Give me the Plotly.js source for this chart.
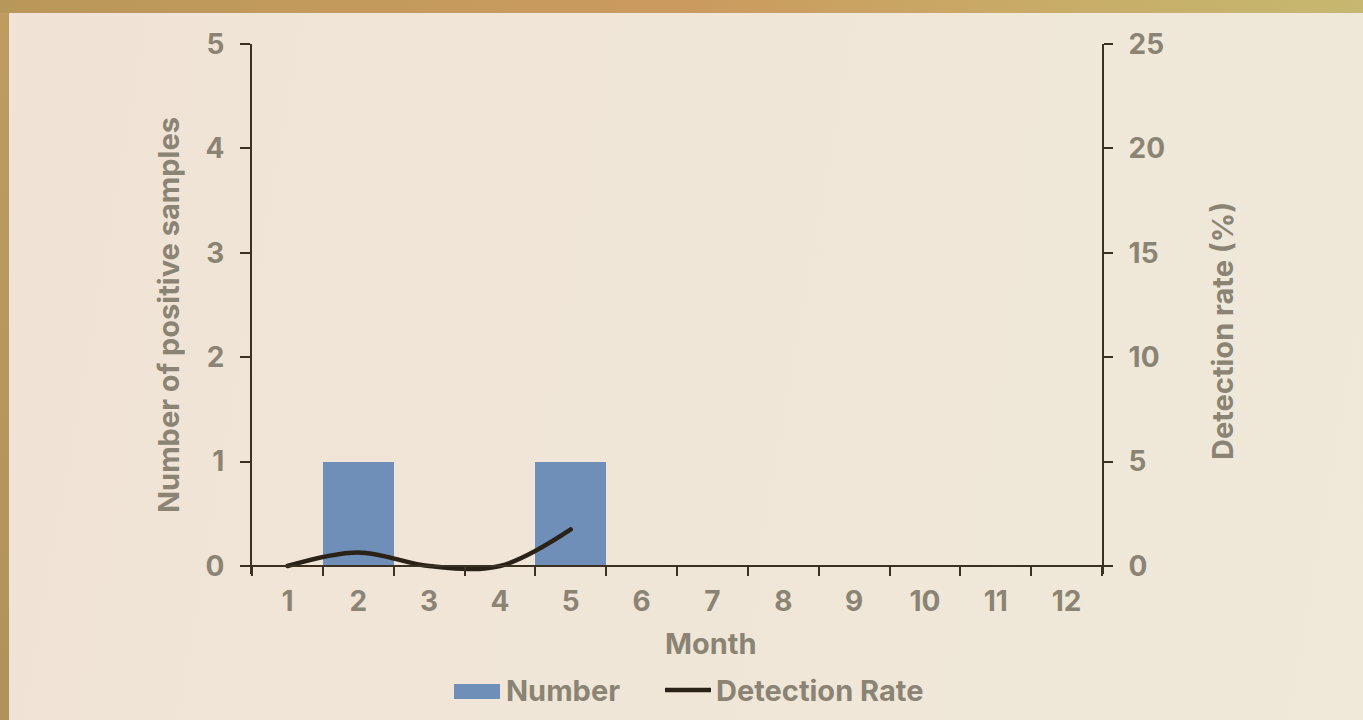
<!DOCTYPE html>
<html>
<head>
<meta charset="utf-8">
<script src="https://cdn.plot.ly/plotly-3.0.1.min.js"></script>
<style>
html,body{margin:0;padding:0;width:1363px;height:720px;overflow:hidden;}
body{background:linear-gradient(90deg,#b8985a 0%,#c39a5c 25%,#cb9a5e 50%,#c8ab66 75%,#c6b870 100%);position:relative;}
#frame{position:absolute;left:0;top:13px;width:9px;height:707px;background:linear-gradient(180deg,#bf9c5e,#b0925a);}
#chart{position:absolute;left:9px;top:13px;width:1354px;height:707px;background:linear-gradient(100deg,#f0e3d5 0%,#f0e6d8 50%,#efe9da 100%);}
.scatterlayer path.js-line{stroke-linecap:round;}
</style>
</head>
<body>
<div id="frame"></div>
<div id="chart"></div>
<script>
const months = ["1","2","3","4","5","6","7","8","9","10","11","12"];
const positiveCounts = [0,1,0,0,1,0,0,0,0,0,0,0];
const rateMonths = ["1","2","3","4","5"];
const detectionRate = [0,0.65,0,0,1.75];
const seriesNames = ["Number","Detection Rate"];

const txt = '#8b8475';
const axc = '#3a3122';
const fam = 'Inter, "Open Sans", sans-serif';
const barColor = '#6f8fb8';
const lineColor = '#2a2217';
const TF = 28, HF = 29;

// zero line at page y 566, top (5 / 25) at 44; plot area extended a few px below zero
// so that the smoothed line is not clipped where it touches zero
const ext = 8;
const H0 = 522;
const y1min = -ext * 5 / H0, y2min = -ext * 25 / H0;

const data = [
  {type:'bar', x:months, y:positiveCounts, name:seriesNames[0], marker:{color:barColor}, yaxis:'y', showlegend:false},
  {type:'scatter', mode:'lines', x:rateMonths, y:detectionRate, name:seriesNames[1],
   line:{color:lineColor, width:4.5, shape:'spline', smoothing:1}, yaxis:'y2', showlegend:false}
];

const fx = px => (px - 252) / 850;
const fy = py => (566 + ext - py) / (H0 + ext);

const layout = {
  width:1354, height:707,
  paper_bgcolor:'rgba(0,0,0,0)', plot_bgcolor:'rgba(0,0,0,0)',
  margin:{l:243, r:261, t:31, b:154 - ext},
  font:{family:fam, color:txt, size:TF, weight:700},
  bargap:0,
  showlegend:false,
  xaxis:{type:'category', categoryorder:'array', categoryarray:months,
         anchor:'free', position: ext / (H0 + ext),
         range:[-0.5,11.5], showline:true, linecolor:axc, linewidth:2,
         ticks:'outside', tickson:'boundaries', ticklen:9, tickwidth:2, tickcolor:axc,
         showgrid:false, zeroline:false, ticklabelstandoff:10,
         tickfont:{size:TF, color:txt, weight:700}},
  yaxis:{range:[y1min,5], tickvals:[0,1,2,3,4,5], showline:true, linecolor:axc, linewidth:2,
         ticks:'outside', ticklen:10, tickwidth:2, tickcolor:axc,
         showgrid:false, zeroline:false, ticklabelstandoff:10,
         tickfont:{size:TF, color:txt, weight:700}},
  yaxis2:{range:[y2min,25], tickvals:[0,5,10,15,20,25], overlaying:'y', side:'right', showline:true, linecolor:axc, linewidth:2,
          ticks:'outside', ticklen:9, tickwidth:2, tickcolor:axc,
          showgrid:false, zeroline:false, ticklabelstandoff:10,
          tickfont:{size:TF, color:txt, weight:700}},
  annotations:[
    {text:'Month', xref:'paper', yref:'paper', x:fx(711), y:fy(643),
     xanchor:'center', yanchor:'middle', showarrow:false, font:{size:HF, color:txt, weight:700}},
    {text:'Number of positive samples', textangle:-90, xref:'paper', yref:'paper',
     x:fx(168), y:fy(315), xanchor:'center', yanchor:'middle', showarrow:false,
     font:{size:HF, color:txt, weight:700}},
    {text:'Detection rate (%)', textangle:-90, xref:'paper', yref:'paper',
     x:fx(1222), y:fy(331), xanchor:'center', yanchor:'middle', showarrow:false,
     font:{size:HF, color:txt, weight:700}},
    {text:seriesNames[0], xref:'paper', yref:'paper', x:fx(504), y:fy(690),
     xanchor:'left', yanchor:'middle', showarrow:false, font:{size:HF, color:txt, weight:700}},
    {text:seriesNames[1], xref:'paper', yref:'paper', x:fx(714), y:fy(690),
     xanchor:'left', yanchor:'middle', showarrow:false, font:{size:HF, color:txt, weight:700}}
  ],
  shapes:[
    {type:'rect', xref:'paper', yref:'paper', x0:fx(454), x1:fx(500), y0:fy(699), y1:fy(684),
     fillcolor:barColor, line:{width:0}},
    {type:'line', xref:'paper', yref:'paper', x0:fx(665), x1:fx(711), y0:fy(690), y1:fy(690),
     line:{color:lineColor, width:4.5}}
  ]
};

Plotly.newPlot('chart', data, layout, {displayModeBar:false, staticPlot:true});
</script>
</body>
</html>
